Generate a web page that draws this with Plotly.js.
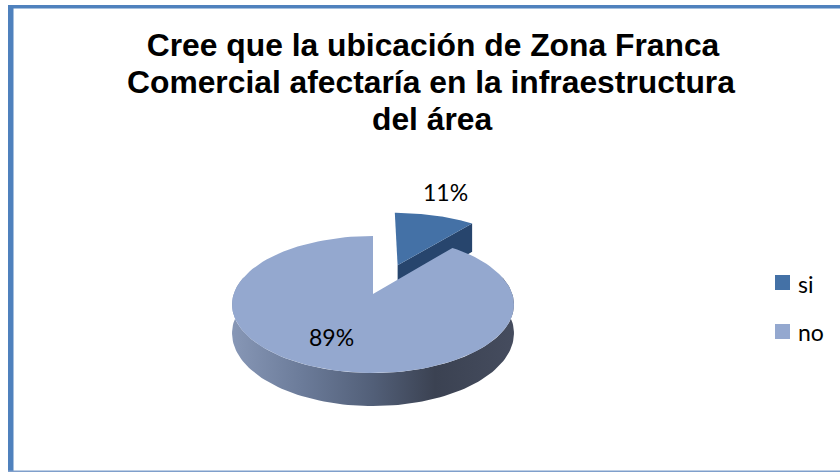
<!DOCTYPE html>
<html><head><meta charset="utf-8">
<script src="https://cdn.plot.ly/plotly-3.0.1.min.js"></script>
<style>html,body{margin:0;padding:0;background:#fff}#c{width:840px;height:472px}</style>
</head><body><div id="c"></div>
<script>
const categories = ['si', 'no'];
const shares = [11, 89];
const sliceColors = ['#4471A6', '#94A8CF'];
const sideColors = ['#27456D'];
const titleLines = ['Cree que la ubicación de Zona Franca', 'Comercial afectaría en la infraestructura', 'del área'];

// perspective projection of the tilted pie onto the hidden pixel-like axes
const X0 = 373, Y0 = 294, A = 139.3, B = 66.9, K = 0.1532, DEPTH = 28, EXPLODE = 0.49, SI_SHIFT = 3, SI_R = 1.03, SI_DEPTH = 1.2;
function proj(u, v, down, shift) {
  const w = 1 + K * v;
  return [X0 + (shift || 0) + A * u / w, Y0 - B * v / w + (down || 0) * DEPTH / w];
}
const total = shares.reduce((a, b) => a + b, 0);
const sweep0 = shares[0] / total * 2 * Math.PI;

function rim(a0, a1, cu, cv, down, shift, r) {
  const pts = [], n = 120, R = r || 1;
  for (let i = 0; i <= n; i++) {
    const t = a0 + (a1 - a0) * i / n;
    pts.push(proj(cu + R * Math.sin(t), cv + R * Math.cos(t), down, shift));
  }
  return pts;
}
function xy(pts) { return { x: pts.map(p => p[0]), y: pts.map(p => p[1]) }; }
function shape(pts, color, extra) {
  return Object.assign({ type: 'scatter', mode: 'lines', fill: 'toself', fillcolor: color,
    line: { width: 0 }, hoverinfo: 'skip', showlegend: false }, xy(pts), extra || {});
}

// exploded slice
const mid = sweep0 / 2;
const eu = EXPLODE * Math.sin(mid), ev = EXPLODE * Math.cos(mid);
const siTop = [proj(eu, ev, 0, SI_SHIFT)].concat(rim(0, sweep0, eu, ev, 0, SI_SHIFT, SI_R));
const siEnd = [eu + SI_R * Math.sin(sweep0), ev + SI_R * Math.cos(sweep0)];
const siSide = [proj(eu, ev, 0, SI_SHIFT), proj(siEnd[0], siEnd[1], 0, SI_SHIFT),
                proj(siEnd[0], siEnd[1], SI_DEPTH, SI_SHIFT), proj(eu, ev, SI_DEPTH, SI_SHIFT)];

// main slice
const noTop = [proj(0, 0, 0)].concat(rim(sweep0, 2 * Math.PI, 0, 0, 0));
const a0 = 75 * Math.PI / 180, a1 = 285 * Math.PI / 180;
const noSide = rim(a0, a1, 0, 0, 0).concat(rim(a0, a1, 0, 0, 1).reverse());

const labelFont = { family: 'Lato, sans-serif', size: 23, color: '#000' };
const titleFont = { family: 'Liberation Sans, Arial, sans-serif', size: 31.8, color: '#000', weight: 700 };

const traces = [
  shape(siSide, sideColors[0]),
  shape(siTop, sliceColors[0]),
  shape(noSide, '#5b6a85', { fillgradient: { type: 'horizontal', colorscale: [
    [0, '#8797B6'], [0.25, '#6B7B99'], [0.5, '#525F78'], [0.72, '#3B4252'], [1, '#454C5E']] } }),
  shape(noTop, sliceColors[1]),
  { type: 'scatter', mode: 'markers', x: [782.5, 782.5], y: [282.5, 331.5], showlegend: false, hoverinfo: 'skip',
    marker: { symbol: 'square', size: 15, color: sliceColors } }
];

const layout = {
  width: 840, height: 472, margin: { l: 0, r: 0, t: 0, b: 0 },
  paper_bgcolor: '#fff', plot_bgcolor: '#fff', showlegend: false,
  xaxis: { range: [0, 840], visible: false, fixedrange: true },
  yaxis: { range: [472, 0], visible: false, fixedrange: true },
  title: { text: titleLines[0], x: 433 / 840, xanchor: 'center', y: 1 - 45 / 472, yanchor: 'middle', font: titleFont },
  annotations: [
    { x: 431, y: 82, text: titleLines[1], showarrow: false, font: titleFont },
    { x: 432, y: 119, text: titleLines[2], showarrow: false, font: titleFont },
    { x: 445, y: 192, text: shares[0] + '%', showarrow: false, font: labelFont },
    { x: 331, y: 337, text: shares[1] + '%', showarrow: false, font: labelFont },
    { x: 796, y: 284, xanchor: 'left', text: categories[0], showarrow: false, font: labelFont },
    { x: 796, y: 332, xanchor: 'left', text: categories[1], showarrow: false, font: labelFont }
  ],
  shapes: [
    { type: 'rect', xref: 'paper', yref: 'paper', x0: 8 / 840, x1: 13.5 / 840, y0: 0, y1: 1 - 5 / 472, fillcolor: '#4F81BD', line: { width: 0 } },
    { type: 'rect', xref: 'paper', yref: 'paper', x0: 8 / 840, x1: 1, y0: 1 - 8.5 / 472, y1: 1 - 5 / 472, fillcolor: '#4F81BD', line: { width: 0 } },
    { type: 'rect', xref: 'paper', yref: 'paper', x0: 8 / 840, x1: 1, y0: 0, y1: 1.5 / 472, fillcolor: '#7F9FCB', line: { width: 0 } }
  ]
};
Plotly.newPlot('c', traces, layout, { displayModeBar: false, staticPlot: true });
</script></body></html>
